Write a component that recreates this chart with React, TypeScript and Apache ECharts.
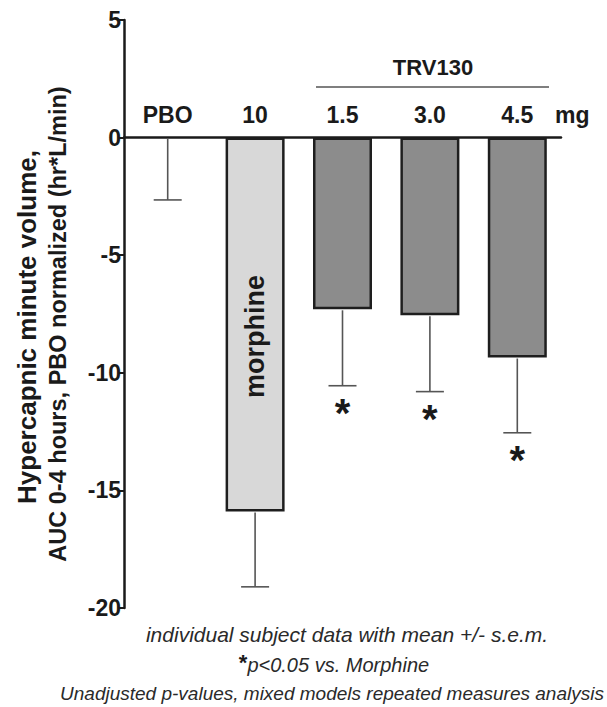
import React, { useEffect, useRef } from "react";
import * as echarts from "echarts";

const categories = ["PBO", "10", "1.5", "3.0", "4.5"];
const meanValues = [0, -15.9, -7.3, -7.55, -9.35];
const semValues = [2.65, 3.2, 3.25, 3.25, 3.2];
const significant = [false, false, true, true, true];
const yMin = -20;
const yMax = 5;
const yStep = 5;
const groupLabel = "TRV130";
const doseUnit = "mg";
const barLabel = "morphine";
const yTitle1 = "Hypercapnic minute volume,";
const yTitle2 = "AUC 0-4 hours, PBO normalized (hr*L/min)";
const footnote1 = "individual subject data with mean +/- s.e.m.";
const footnote2 = "p<0.05 vs. Morphine";
const footnote3 = "Unadjusted p-values, mixed models repeated measures analysis";

const FONT = "'Liberation Sans', Arial, Helvetica, sans-serif";

export default function App() {
  const ref = useRef<HTMLDivElement>(null);

  useEffect(() => {
    const chart = echarts.init(ref.current!, null, { renderer: "svg" });

    const barData = meanValues.map((v, i) => {
      const item: any = {
        value: v,
        itemStyle: {
          color: i === 1 ? "#d8d8d8" : "#8c8c8c",
          borderColor: "#1e1e1e",
          borderWidth: i === 0 ? 0 : 2.5,
        },
      };
      if (i === 1) {
        item.label = {
          show: true,
          formatter: barLabel,
          position: "inside",
          rotate: 90,
          offset: [-12, 0],
          fontFamily: FONT,
          fontWeight: "bold",
          fontSize: 27,
          color: "#1a1a1a",
        };
      }
      return item;
    });

    const errData = meanValues.map((v, i) => [i, v, v - semValues[i]]);
    const catData = categories.map((c, i) => [i, 0]);

    const option: any = {
      animation: false,
      grid: {
        left: 124,
        right: 46,
        top: 20,
        bottom: 99,
        containLabel: false,
        outerBoundsMode: "none",
      },
      xAxis: {
        type: "category",
        data: categories,
        axisLine: { onZero: true, lineStyle: { color: "#1a1a1a", width: 2.5 } },
        axisTick: { show: false },
        axisLabel: { show: false },
        splitLine: { show: false },
      },
      yAxis: {
        type: "value",
        min: yMin,
        max: yMax,
        interval: yStep,
        axisLine: { show: true, lineStyle: { color: "#1a1a1a", width: 2.5 } },
        axisTick: { show: true, length: 6, lineStyle: { color: "#1a1a1a", width: 2 } },
        axisLabel: {
          margin: 3,
          fontFamily: FONT,
          fontWeight: "bold",
          fontSize: 23,
          color: "#1a1a1a",
        },
        splitLine: { show: false },
      },
      series: [
        {
          type: "bar",
          data: barData,
          barWidth: 59,
          z: 2,
        },
        {
          type: "custom",
          data: errData,
          z: 3,
          renderItem: (params: any, api: any) => {
            const idx = api.value(0);
            const top = api.coord([idx, api.value(1)]);
            const bot = api.coord([idx, api.value(2)]);
            const hw = 14;
            const style = { stroke: "#555555", lineWidth: 1.6 };
            const children: any[] = [
              { type: "line", shape: { x1: top[0], y1: top[1] + 1, x2: bot[0], y2: bot[1] }, style },
              { type: "line", shape: { x1: bot[0] - hw, y1: bot[1], x2: bot[0] + hw, y2: bot[1] }, style },
            ];
            if (significant[params.dataIndex]) {
              children.push({
                type: "text",
                style: {
                  text: "*",
                  x: bot[0],
                  y: bot[1] + 7,
                  align: "center",
                  verticalAlign: "top",
                  fontFamily: FONT,
                  fontWeight: "bold",
                  fontSize: 40,
                  fill: "#1a1a1a",
                },
              });
            }
            return { type: "group", children };
          },
        },
        {
          type: "custom",
          data: catData,
          z: 4,
          renderItem: (params: any, api: any) => {
            const p = api.coord([api.value(0), api.value(1)]);
            return {
              type: "text",
              style: {
                text: categories[params.dataIndex],
                x: p[0],
                y: p[1] - 23,
                align: "center",
                verticalAlign: "middle",
                fontFamily: FONT,
                fontWeight: "bold",
                fontSize: 23,
                fill: "#1a1a1a",
              },
            };
          },
        },
      ],
      graphic: [
        {
          type: "text",
          x: 27,
          y: 327,
          rotation: Math.PI / 2,
          style: {
            text: yTitle1,
            align: "center",
            verticalAlign: "middle",
            fontFamily: FONT,
            fontWeight: "bold",
            fontSize: 26,
            fill: "#1a1a1a",
          },
        },
        {
          type: "text",
          x: 58,
          y: 324,
          rotation: Math.PI / 2,
          style: {
            text: yTitle2,
            align: "center",
            verticalAlign: "middle",
            fontFamily: FONT,
            fontWeight: "bold",
            fontSize: 23.5,
            fill: "#1a1a1a",
          },
        },
        {
          type: "line",
          shape: { x1: 316, y1: 87, x2: 549, y2: 87 },
          style: { stroke: "#555555", lineWidth: 1.6 },
        },
        {
          type: "text",
          x: 433,
          y: 67,
          style: {
            text: groupLabel,
            align: "center",
            verticalAlign: "middle",
            fontFamily: FONT,
            fontWeight: "bold",
            fontSize: 22,
            fill: "#1a1a1a",
          },
        },
        {
          type: "text",
          x: 555,
          y: 115,
          style: {
            text: doseUnit,
            align: "left",
            verticalAlign: "middle",
            fontFamily: FONT,
            fontWeight: "bold",
            fontSize: 23,
            fill: "#1a1a1a",
          },
        },
        {
          type: "text",
          x: 347,
          y: 634,
          style: {
            text: footnote1,
            align: "center",
            verticalAlign: "middle",
            fontFamily: FONT,
            fontStyle: "italic",
            fontSize: 21,
            fill: "#2a2a2a",
          },
        },
        {
          type: "text",
          x: 334,
          y: 665,
          style: {
            text: "{s|*}{i|" + footnote2 + "}",
            align: "center",
            verticalAlign: "middle",
            rich: {
              s: { fontFamily: FONT, fontWeight: "bold", fontSize: 22, fill: "#1a1a1a", verticalAlign: "top", padding: [0, 0, 6, 0] },
              i: { fontFamily: FONT, fontStyle: "italic", fontSize: 20, fill: "#2a2a2a" },
            },
          },
        },
        {
          type: "text",
          x: 332,
          y: 693,
          style: {
            text: footnote3,
            align: "center",
            verticalAlign: "middle",
            fontFamily: FONT,
            fontStyle: "italic",
            fontSize: 19,
            fill: "#2a2a2a",
          },
        },
      ],
    };

    chart.setOption(option);
    return () => chart.dispose();
  }, []);

  return (
    <div
      ref={ref}
      style={{ position: "absolute", left: 0, top: 0, width: 607, height: 707 }}
    />
  );
}
